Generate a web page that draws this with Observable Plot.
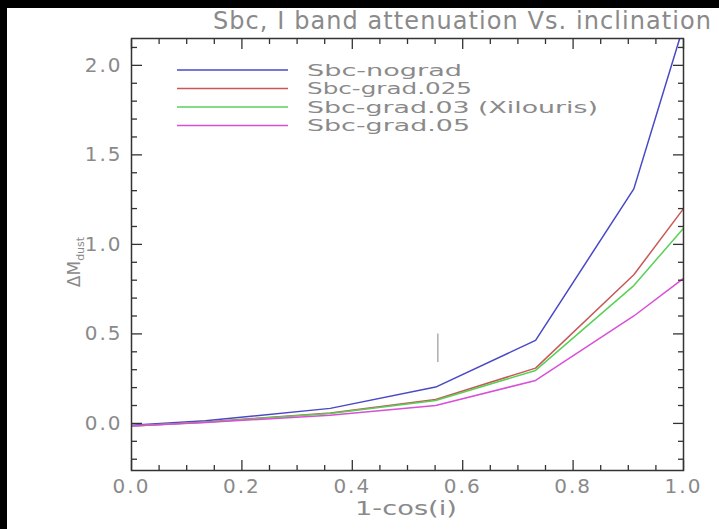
<!DOCTYPE html>
<html><head><meta charset="utf-8">
<script src="https://cdn.jsdelivr.net/npm/d3@7"></script>
<script src="https://cdn.jsdelivr.net/npm/@observablehq/plot@0.6"></script>
<style>
html,body{margin:0;padding:0;background:#000;width:719px;height:529px;overflow:hidden}
.layer{position:absolute;left:0;top:0}
</style></head><body>
<div style="position:absolute;left:7px;top:8px;width:712px;height:521px;background:#fff">
<svg class="layer" width="712" height="521"><rect width="712" height="521" fill="#fff"/></svg>
<div id="chart" class="layer"></div>
<svg id="overlay" class="layer" width="712" height="521"></svg>
</div>
<script>
// ---- data ----
const xVals = [0, 0.134, 0.36, 0.551, 0.732, 0.91, 1.0];
const seriesNames = ["Sbc-nograd", "Sbc-grad.025", "Sbc-grad.03 (Xilouris)", "Sbc-grad.05"];
const nograd  = [-0.010, 0.015, 0.084, 0.203, 0.464, 1.31, 2.22];
const grad025 = [-0.015, 0.008, 0.058, 0.134, 0.309, 0.83, 1.20];
const grad03  = [-0.015, 0.007, 0.055, 0.128, 0.296, 0.77, 1.09];
const grad05  = [-0.015, 0.005, 0.045, 0.100, 0.240, 0.60, 0.81];
const seriesValues = [nograd, grad025, grad03, grad05];
const seriesColors = ["#4848c8", "#c85858", "#58d058", "#d850d8"];
const markerX = [0.555];
const markerY = [0.34, 0.50];
const xMajorTicks = [0, 0.2, 0.4, 0.6, 0.8, 1.0];
const yMajorTicks = [0, 0.5, 1.0, 1.5, 2.0];
const xDomain = [0, 1];
const yDomain = [-0.263, 2.15];
const titleText = "Sbc, I band attenuation Vs. inclination";
const xLabelText = "1-cos(i)";

const xMinorTicks = d3.range(0, 21).map(i => +(i * 0.05).toFixed(2)).filter(v => !xMajorTicks.includes(v));
const yMinorTicks = d3.range(-2, 22).map(i => +(i * 0.1).toFixed(2)).filter(v => !yMajorTicks.includes(v));

const rows = [];
seriesNames.forEach((name, s) => xVals.forEach((x, i) => rows.push({series: name, x, y: seriesValues[s][i]})));
const markerRows = markerX.map(x => ({x, y1: markerY[0], y2: markerY[1]}));

const axisStroke = "#333333";
const labelFill = "#8a8a8a";
const blank = () => "";
const tickOpts = {tickFormat: blank, stroke: axisStroke, strokeWidth: 1.3, label: null};

const chart = Plot.plot({
  width: 712, height: 521,
  marginLeft: 124, marginRight: 36, marginTop: 30, marginBottom: 59,
  style: {background: "none", color: "#000", fontFamily: "DejaVu Sans, sans-serif", letterSpacing: "2px"},
  x: {domain: xDomain},
  y: {domain: yDomain},
  color: {domain: seriesNames, range: seriesColors},
  marks: [
    Plot.line(rows, {x: "x", y: "y", z: "series", stroke: "series", strokeWidth: 1.5, clip: true}),
    Plot.ruleX(markerRows, {x: "x", y1: "y1", y2: "y2", stroke: "#999999", strokeWidth: 1.2}),
    Plot.frame({stroke: axisStroke, strokeWidth: 1.5}),
    Plot.axisX({ticks: xMajorTicks, tickSize: 0, tickPadding: 8, tickFormat: d3.format(".1f"), fontSize: 20, fill: labelFill, label: null}),
    Plot.axisY({ticks: yMajorTicks, tickSize: 0, tickPadding: 9, tickFormat: d3.format(".1f"), fontSize: 20, fill: labelFill, label: null}),
    Plot.axisX({ticks: xMajorTicks, tickSize: -10, ...tickOpts}),
    Plot.axisX({ticks: xMinorTicks, tickSize: -5, ...tickOpts}),
    Plot.axisX({anchor: "top", ticks: xMajorTicks, tickSize: -10, ...tickOpts}),
    Plot.axisX({anchor: "top", ticks: xMinorTicks, tickSize: -5, ...tickOpts}),
    Plot.axisY({ticks: yMajorTicks, tickSize: -11, ...tickOpts}),
    Plot.axisY({ticks: yMinorTicks, tickSize: -6, ...tickOpts}),
    Plot.axisY({anchor: "right", ticks: yMajorTicks, tickSize: -11, ...tickOpts}),
    Plot.axisY({anchor: "right", ticks: yMinorTicks, tickSize: -6, ...tickOpts})
  ]
});
document.getElementById("chart").appendChild(chart);

// ---- overlay texts & legend ----
const ov = d3.select("#overlay").style("font-family", "DejaVu Sans, sans-serif");
ov.append("text").attr("x", 206).attr("y", 21).attr("font-size", 24).attr("fill", labelFill)
  .attr("textLength", 498).attr("lengthAdjust", "spacing").text(titleText);
ov.append("text").attr("x", 399).attr("y", 507).attr("font-size", 20).attr("fill", labelFill)
  .attr("text-anchor", "middle").attr("textLength", 102).attr("lengthAdjust", "spacingAndGlyphs").text(xLabelText);
const yl = ov.append("text").attr("transform", "translate(73,254) rotate(-90)").attr("text-anchor", "middle").attr("fill", labelFill);
yl.append("tspan").attr("font-size", 17).text("ΔM");
yl.append("tspan").attr("font-size", 11).attr("dy", 4).text("dust");

const legendWidths = [155, 165, 291, 163];
seriesNames.forEach((name, i) => {
  const y = 62 + i * 18.5;
  ov.append("line").attr("x1", 170).attr("x2", 281).attr("y1", y).attr("y2", y)
    .attr("stroke", seriesColors[i]).attr("stroke-width", 1.5);
  ov.append("text").attr("x", 300).attr("y", y).attr("dy", "0.36em").attr("font-size", 16.5)
    .attr("fill", labelFill).attr("textLength", legendWidths[i]).attr("lengthAdjust", "spacingAndGlyphs").text(name);
});
</script>
</body></html>
